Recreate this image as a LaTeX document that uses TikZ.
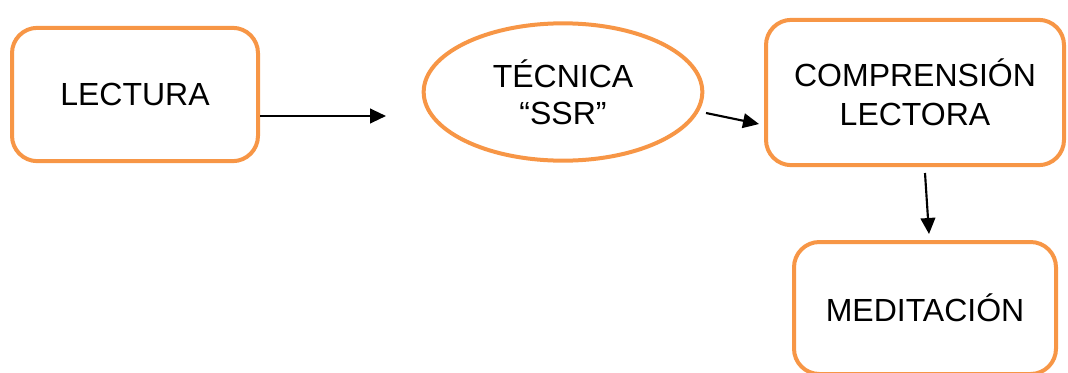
\documentclass[tikz,border=0pt]{standalone}
\usepackage{fontspec}
\setmainfont{Liberation Sans}
\usetikzlibrary{arrows.meta,shapes.geometric}
\definecolor{boxorange}{HTML}{F79646}
\begin{document}
\begin{tikzpicture}[x=0.75pt,y=-0.75pt,
  box/.style={draw=boxorange,line width=3pt,rounded corners=19pt,fill=white,
    inner sep=0pt,align=center,font=\fontsize{24}{29}\selectfont},
  oval/.style={draw=boxorange,line width=3pt,ellipse,fill=white,
    inner sep=0pt,align=center,font=\fontsize{24}{28}\selectfont},
  arr/.style={line width=1.6pt,-{Triangle[length=12pt,width=11pt]}}]
\useasboundingbox (0,0) rectangle (1068,372);
\clip (0,0) rectangle (1068,372);
\node[box,minimum width=184.5pt,minimum height=100pt] (lect) at (135,94.5) {LECTURA};
\node[oval,minimum width=209pt,minimum height=103pt] (tec) at (563,92) {TÉCNICA\\“SSR”};
\node[box,minimum width=223.5pt,minimum height=109pt] (comp) at (915,92.5) {COMPRENSIÓN\\LECTORA};
\node[box,minimum width=196.5pt,minimum height=99pt] (med) at (925,308) {MEDITACIÓN};
\coordinate (a1e) at (386,116);
\coordinate (a2s) at (706,113);
\coordinate (a2e) at (759,124);
\coordinate (a3s) at (925,173);
\coordinate (a3e) at (929,234);
\draw[arr] (lect.east |- a1e) -- (a1e);
\draw[arr] (a2s) -- (a2e);
\draw[arr] (a3s) -- (a3e);
\end{tikzpicture}
\end{document}
